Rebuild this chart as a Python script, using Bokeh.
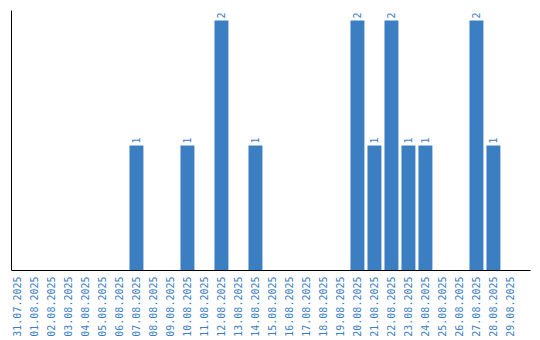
import math
from bokeh.plotting import figure
from bokeh.models import ColumnDataSource, FixedTicker
from bokeh.core.properties import value
from bokeh.embed import file_html
from bokeh.resources import INLINE

dates = ["31.07.2025", "01.08.2025", "02.08.2025", "03.08.2025", "04.08.2025",
         "05.08.2025", "06.08.2025", "07.08.2025", "08.08.2025", "09.08.2025",
         "10.08.2025", "11.08.2025", "12.08.2025", "13.08.2025", "14.08.2025",
         "15.08.2025", "16.08.2025", "17.08.2025", "18.08.2025", "19.08.2025",
         "20.08.2025", "21.08.2025", "22.08.2025", "23.08.2025", "24.08.2025",
         "25.08.2025", "26.08.2025", "27.08.2025", "28.08.2025", "29.08.2025"]
counts = [0, 0, 0, 0, 0, 0, 0, 1, 0, 0,
          1, 0, 2, 0, 1, 0, 0, 0, 0, 0,
          2, 1, 2, 1, 1, 0, 0, 2, 1, 0]

BLUE = "#3b7ec2"
idx = list(range(len(dates)))

src = ColumnDataSource(dict(x=idx, top=counts))
lab_x = [i for i, c in zip(idx, counts) if c > 0]
lab_y = [c for c in counts if c > 0]
lab_t = [str(c) for c in lab_y]
lsrc = ColumnDataSource(dict(x=lab_x, y=lab_y, t=lab_t))

p = figure(width=540, height=340, output_backend="svg", toolbar_location=None,
           x_range=(-0.35, 30.18), y_range=(0, 2.08),
           min_border_left=11, min_border_right=10, min_border_top=10,
           min_border_bottom=70)
p.outline_line_color = None
p.xgrid.grid_line_color = None
p.ygrid.grid_line_color = None

p.vbar(x="x", top="top", bottom=0, width=0.82, source=src,
       fill_color=BLUE, line_color=None)

p.text(x="x", y="y", text="t", source=lsrc, angle=math.pi / 2,
       text_align="left", text_baseline="middle", y_offset=-2,
       text_color=BLUE, text_font=value("DejaVu Sans Mono"),
       text_font_size="10px")

xa = p.xaxis[0]
xa.ticker = FixedTicker(ticks=idx)
xa.major_label_overrides = {i: d for i, d in zip(idx, dates)}
xa.major_label_orientation = math.pi / 2
xa.major_label_text_color = BLUE
xa.major_label_text_font = "DejaVu Sans Mono"
xa.major_label_text_font_size = "10px"
xa.major_tick_line_color = None
xa.minor_tick_line_color = None
xa.major_tick_out = 0
xa.major_label_standoff = 6
xa.axis_line_color = "black"

ya = p.yaxis[0]
ya.ticker = FixedTicker(ticks=[])
ya.major_tick_line_color = None
ya.minor_tick_line_color = None
ya.major_label_text_font_size = "0px"
ya.major_tick_out = 0
ya.major_label_standoff = 0
ya.axis_line_color = "black"

open("out.html", "w").write(file_html(p, INLINE))
